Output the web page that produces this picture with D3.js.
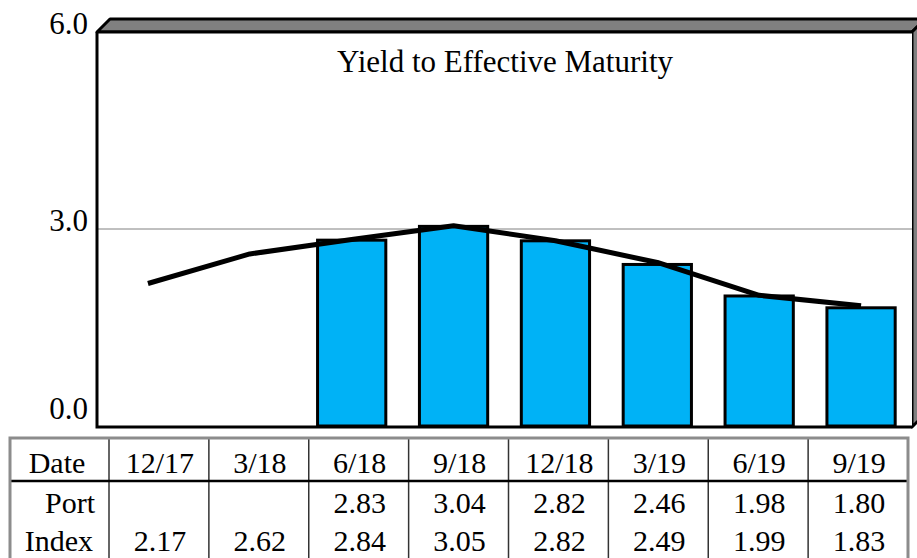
<!DOCTYPE html>
<html>
<head>
<meta charset="utf-8">
<script src="https://cdn.jsdelivr.net/npm/d3@7"></script>
<style>
  html, body { margin: 0; padding: 0; background: #fff; }
  svg { display: block; }
</style>
</head>
<body>
<script>
// Quarter-end dates and yields (%)
const dates = ["12/17", "3/18", "6/18", "9/18", "12/18", "3/19", "6/19", "9/19"];
const portYield = [null, null, 2.83, 3.04, 2.82, 2.46, 1.98, 1.80];
const indexYield = [2.17, 2.62, 2.84, 3.05, 2.82, 2.49, 1.99, 1.83];
const yTicks = [0, 3, 6];
const tickLabels = ["0.0", "3.0", "6.0"];
const title = "Yield to Effective Maturity";
const rowLabels = ["Date", "Port", "Index"];

const FONT = "'Liberation Serif', 'DejaVu Serif', serif";
const W = 917, H = 558;
const frame = { left: 97, top: 32, right: 912, bottom: 427 };
const depth = 13;

const svg = d3.select("body").append("svg")
  .attr("width", W).attr("height", H)
  .style("font-family", FONT);

const x = d3.scaleBand().domain(dates)
  .range([frame.left, frame.right])
  .paddingInner(0.33).paddingOuter(0.165);
const y = d3.scaleLinear().domain([0, 6]).range([frame.bottom - 1, frame.top]);

// 3-D box: top and right faces
const g3 = svg.append("g");
g3.append("path")
  .attr("d", `M${frame.left},${frame.top} L${frame.left + depth},${frame.top - depth} L${frame.right + depth},${frame.top - depth} L${frame.right},${frame.top} Z`)
  .attr("fill", "#808080").attr("stroke", "#000").attr("stroke-width", 3).attr("stroke-linejoin", "round");
g3.append("path")
  .attr("d", `M${frame.right},${frame.top} L${frame.right + depth},${frame.top - depth} L${frame.right + depth},${frame.bottom - depth} L${frame.right},${frame.bottom} Z`)
  .attr("fill", "#808080").attr("stroke", "#000").attr("stroke-width", 3).attr("stroke-linejoin", "round");

// Front face
svg.append("rect")
  .attr("x", frame.left).attr("y", frame.top)
  .attr("width", frame.right - frame.left).attr("height", frame.bottom - frame.top)
  .attr("fill", "#fff");

// Gridline at the middle tick
svg.append("g").selectAll("line")
  .data(yTicks.filter(v => v > 0 && v < 6))
  .join("line")
  .attr("x1", frame.left).attr("x2", frame.right)
  .attr("y1", d => y(d)).attr("y2", d => y(d))
  .attr("stroke", "#808080").attr("stroke-width", 1);

// Title
svg.append("text")
  .attr("x", 505).attr("y", 72)
  .attr("text-anchor", "middle")
  .attr("font-family", FONT)
  .attr("font-size", 31)
  .text(title);

// Portfolio bars
svg.append("g").selectAll("rect")
  .data(dates.map((d, i) => ({ d, v: portYield[i] })).filter(o => o.v != null))
  .join("rect")
  .attr("x", o => x(o.d))
  .attr("y", o => y(o.v))
  .attr("width", x.bandwidth())
  .attr("height", o => y(0) - y(o.v))
  .attr("fill", "#00b2f6")
  .attr("stroke", "#000")
  .attr("stroke-width", 3);

// Index line
const line = d3.line()
  .x(o => x(o.d) + x.bandwidth() / 2)
  .y(o => y(o.v));
svg.append("path")
  .datum(dates.map((d, i) => ({ d, v: indexYield[i] })))
  .attr("d", line)
  .attr("fill", "none")
  .attr("stroke", "#000")
  .attr("stroke-width", 5)
  .attr("stroke-linejoin", "round");

// Front face border (left, top and bottom)
svg.append("path")
  .attr("d", `M${frame.left},${frame.top} L${frame.left},${frame.bottom} L${frame.right},${frame.bottom}`)
  .attr("fill", "none").attr("stroke", "#000").attr("stroke-width", 3);
svg.append("line")
  .attr("x1", frame.left).attr("x2", frame.right)
  .attr("y1", frame.top).attr("y2", frame.top)
  .attr("stroke", "#000").attr("stroke-width", 3);

// Y axis labels
svg.append("g").selectAll("text")
  .data(yTicks)
  .join("text")
  .attr("x", 88)
  .attr("y", d => d === 0 ? y(d) - 7 : y(d) + 2)
  .attr("text-anchor", "end")
  .attr("font-family", FONT)
  .attr("font-size", 31)
  .text((d, i) => tickLabels[i]);

// Data table
const table = { left: 10, right: 908, top: 438, headerBottom: 481, labelRight: 109 };
const col = d3.scaleBand().domain(dates).range([table.labelRight, table.right]);
const rowBaselines = [473, 513, 551];

const tg = svg.append("g");
tg.append("g").selectAll("line")
  .data(dates)
  .join("line")
  .attr("x1", d => col(d)).attr("x2", d => col(d))
  .attr("y1", table.top).attr("y2", H)
  .attr("stroke", "#333").attr("stroke-width", 1.5);
tg.append("line")
  .attr("x1", table.left).attr("x2", table.right)
  .attr("y1", table.headerBottom).attr("y2", table.headerBottom)
  .attr("stroke", "#000").attr("stroke-width", 2.5);
tg.append("path")
  .attr("d", `M${table.left},${H + 5} L${table.left},${table.top} L${table.right},${table.top} L${table.right},${H + 5}`)
  .attr("fill", "none").attr("stroke", "#8c8c8c").attr("stroke-width", 3);

// Row labels
const labelPos = [{ x: 57, anchor: "middle" }, { x: 95, anchor: "end" }, { x: 93, anchor: "end" }];
tg.append("g").selectAll("text")
  .data(rowLabels)
  .join("text")
  .attr("x", (d, i) => labelPos[i].x)
  .attr("y", (d, i) => rowBaselines[i])
  .attr("text-anchor", (d, i) => labelPos[i].anchor)
  .attr("font-family", FONT)
  .attr("font-size", 30)
  .text(d => d);

const fmt = d3.format(".2f");
const rows = [
  dates.map(d => ({ d, t: d })),
  dates.map((d, i) => ({ d, t: portYield[i] == null ? "" : fmt(portYield[i]) })),
  dates.map((d, i) => ({ d, t: indexYield[i] == null ? "" : fmt(indexYield[i]) }))
];
rows.forEach((r, ri) => {
  tg.append("g").selectAll("text")
    .data(r)
    .join("text")
    .attr("x", o => col(o.d) + col.bandwidth() / 2 + 1)
    .attr("y", rowBaselines[ri])
    .attr("text-anchor", "middle")
    .attr("font-family", FONT)
    .attr("font-size", 30)
    .text(o => o.t);
});
</script>
</body>
</html>
